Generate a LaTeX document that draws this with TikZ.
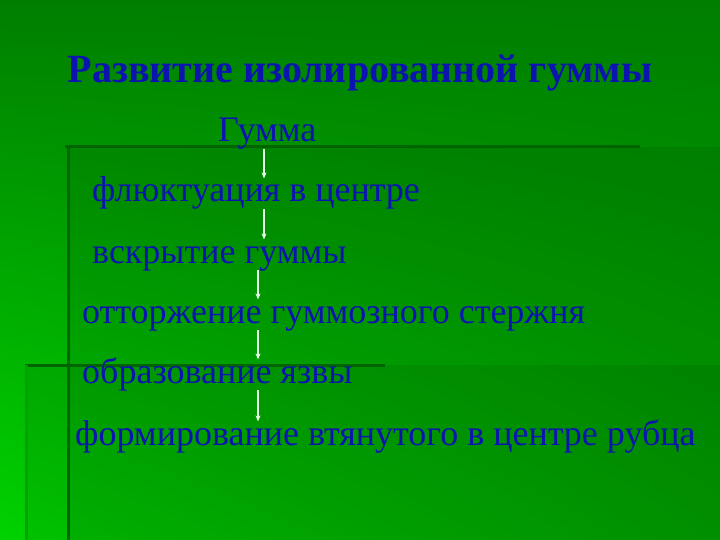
\documentclass[tikz,border=0pt]{standalone}
\usepackage{fontspec}
\setmainfont{Liberation Serif}
\usepackage{xcolor}
\usetikzlibrary{positioning,arrows.meta,shadings}

\definecolor{textblue}{RGB}{12,20,176}
\definecolor{arrowwhite}{RGB}{230,255,230}
\definecolor{edgedark}{RGB}{0,100,0}
\definecolor{bgtl}{RGB}{0,126,0}
\definecolor{bgtr}{RGB}{0,126,0}
\definecolor{bgbl}{RGB}{0,210,0}
\definecolor{bgbr}{RGB}{0,168,0}

\begin{document}
\begin{tikzpicture}[x=1pt, y=-1pt,
    stage/.style={inner sep=0pt, anchor=base west, text=textblue,
        font=\fontsize{36}{40}\selectfont, text height=23.4pt, text depth=7.2pt},
    headline/.style={inner sep=0pt, anchor=base, text=textblue,
        font=\fontsize{40}{44}\selectfont\bfseries},
    flow/.style={-{Stealth[length=6pt,width=5pt]}, arrowwhite, line width=1.6pt}]
    \useasboundingbox (0,0) rectangle (720,540);

    % Hintergrund
    \shade[upper left=bgtl, upper right=bgtr, lower left=bgbl, lower right=bgbr]
        (0,0) rectangle (720,540);
    \fill[black, opacity=0.07] (25,365) rectangle (720,540);
    \fill[black, opacity=0.08] (67,147) rectangle (720,540);
    \draw[edgedark, line width=3pt] (25,365) -- (385,365);
    \draw[edgedark!60!green, line width=3pt] (26.5,365) -- (26.5,540);
    \draw[edgedark, line width=3pt] (65,147) -- (640,147);
    \draw[edgedark, line width=3pt] (68.5,147) -- (68.5,540);

    % Titel
    \node[headline] (title) at (360,83) {Развитие изолированной гуммы};

    % Stadien
    \node[stage] (gumma) at (218,142) {Гумма};
    \node[stage] (fluct) at (92,202) {флюктуация в центре};
    \node[stage] (opening) at (92,263) {вскрытие гуммы};
    \node[stage] (rejection) at (82,323) {отторжение гуммозного стержня};
    \node[stage] (ulcer) at (82,383) {образование язвы};
    \node[stage] (scar) at (75,445) {формирование втянутого в центре рубца};

    % Pfeile
    \coordinate (axA) at (264,0);
    \coordinate (axB) at (258,0);
    \foreach \source/\dest/\ax in {gumma/fluct/axA, fluct/opening/axA,
                                   opening/rejection/axB, rejection/ulcer/axB,
                                   ulcer/scar/axB} {
        \draw[flow] (\source.south -| \ax) -- (\dest.north -| \ax);
    }
\end{tikzpicture}
\end{document}
